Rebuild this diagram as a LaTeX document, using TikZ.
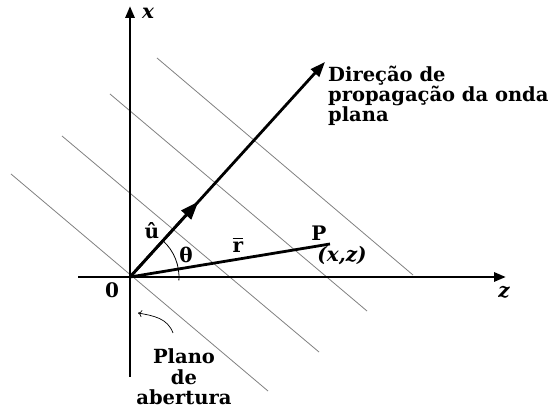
\documentclass[tikz,border=0pt]{standalone}
\usepackage{fontspec}
\setmainfont{DejaVu Serif}
\usetikzlibrary{arrows.meta, calc}
\tikzstyle{axis} = [line width=2.8pt, -{Triangle[length=12pt,width=9pt]}]
\tikzstyle{front} = [gray, line width=0.8pt]
\newcommand{\barvec}[1]{\setbox0\hbox{#1}\vbox{\hrule height 1.6pt width \wd0\kern 2.5pt\box0}}

\begin{document}
\begin{tikzpicture}[
        x=1pt, y=1pt,
        lbl/.style={font=\fontsize{20}{22}\selectfont\bfseries, inner sep=0pt},
        ilbl/.style={font=\fontsize{20}{22}\selectfont\bfseries\itshape, inner sep=0pt},
        txt/.style={font=\fontsize{19.5}{20}\selectfont\bfseries, inner sep=0pt},
        prop/.style={line width=2.8pt, -{Triangle[length=15pt,width=11pt]}}
        ]
        \useasboundingbox (0,0) rectangle (554,412);

        % wave fronts
        \foreach \sx/\sy/\ex/\ey in {11/238/268/21, 62/276/319/60, 110/318/367/101, 157/354/413/137}
            \draw[front] (\sx,\sy) -- (\ex,\ey);

        % axes
        \coordinate (O) at (130,135);
        \coordinate (xtop) at (130,406);
        \coordinate (xbot) at (130,35);
        \coordinate (zleft) at (78,135);
        \coordinate (zright) at (506,135);
        \draw[axis] (xbot) -- (xtop);
        \draw[axis] (zleft) -- (zright);

        % vectors
        \coordinate (utip) at (325,350);
        \coordinate (umid) at ($(O)!0.35!(utip)$);
        \coordinate (P) at (330,168);
        \draw[prop] (O) -- (utip);
        \draw[line width=2.8pt, -{Triangle[length=18pt,width=13pt]}] (O) -- (umid);
        \draw[line width=2.8pt] (O) -- (P);
        \draw[line width=0.8pt] (O) ++(-4:49) arc[start angle=-4, end angle=48, radius=49];

        % labels
        \node[ilbl] (xlab) at (148,399) {x};
        \node[ilbl] (zlab) at (504,120) {z};
        \node[lbl] (zero) at (112,122) {0};
        \node[lbl] (uhat) at (152,181) {û};
        \node[lbl] (theta) at (186,157) {θ};
        \node[lbl] (rbar) at (238,167) {\barvec{r}};
        \node[lbl] (plabel) at (319,179) {P};
        \node[ilbl] (xz) at (342,156) {(x,z)};

        \node[txt, align=left, anchor=north west] (dir) at (328,346) {Direção de\\propagação da onda\\plana};
        \node[txt, align=center, anchor=north] (plano) at (184,64) {Plano\\[1pt]de\\abertura};

        \coordinate (cstart) at (173,79);
        \coordinate (cend) at (138,99);
        \draw[line width=0.7pt, -{To[length=4pt,width=7pt]}] (cstart) to[out=110, in=-10] (cend);

    \end{tikzpicture}
\end{document}
